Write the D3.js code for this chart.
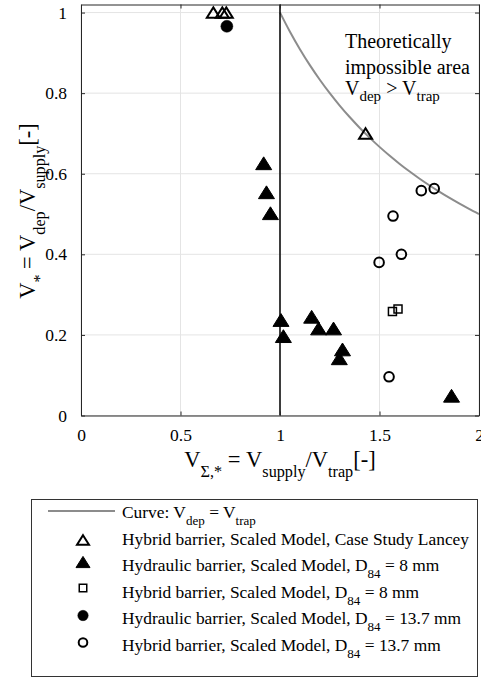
<!DOCTYPE html>
<html><head><meta charset="utf-8">
<script src="https://cdn.jsdelivr.net/npm/d3@7/dist/d3.min.js"></script>
<style>body{margin:0;background:#fff}svg{display:block}text{font-family:'Liberation Serif','Times New Roman',serif}</style>
</head><body>
<svg id="c" width="481" height="678"></svg>
<script>
// ---- data ----
const xTicks = [0, 0.5, 1, 1.5, 2];
const yTicks = [0, 0.2, 0.4, 0.6, 0.8, 1];
const xTickLabels = ["0", "0.5", "1", "1.5", "2"];
const yTickLabels = ["0", "0.2", "0.4", "0.6", "0.8", "1"];
const lanceyX = [0.665, 0.71, 0.73, 1.43];
const lanceyY = [1.0, 1.0, 1.0, 0.70];
const hyd8X = [0.918, 0.932, 0.952, 1.005, 1.017, 1.159, 1.194, 1.269, 1.314, 1.298, 1.862];
const hyd8Y = [0.626, 0.554, 0.502, 0.237, 0.197, 0.245, 0.216, 0.216, 0.164, 0.142, 0.049];
const hyb8X = [1.565, 1.593];
const hyb8Y = [0.258, 0.264];
const hyd137X = [0.733];
const hyd137Y = [0.966];
const hyb137X = [1.710, 1.775, 1.568, 1.498, 1.610, 1.548];
const hyb137Y = [0.558, 0.563, 0.495, 0.380, 0.400, 0.096];
const curveX = [1, 1.05, 1.1, 1.15, 1.2, 1.25, 1.3, 1.35, 1.4, 1.45, 1.5, 1.55, 1.6, 1.65, 1.7, 1.75, 1.8, 1.85, 1.9, 1.95, 2];
const legendLabels = [
  [{t:"Curve: V"},{t:"dep",s:1},{t:" = V"},{t:"trap",s:1}],
  [{t:"Hybrid barrier, Scaled Model, Case Study Lancey"}],
  [{t:"Hydraulic barrier, Scaled Model, D"},{t:"84",s:1},{t:" = 8 mm"}],
  [{t:"Hybrid barrier, Scaled Model, D"},{t:"84",s:1},{t:" = 8 mm"}],
  [{t:"Hydraulic barrier, Scaled Model, D"},{t:"84",s:1},{t:" = 13.7 mm"}],
  [{t:"Hybrid barrier, Scaled Model, D"},{t:"84",s:1},{t:" = 13.7 mm"}]
];

const FONT = "'Liberation Serif','Times New Roman',serif";
const svg = d3.select("#c");
const x = d3.scaleLinear().domain([0, 2]).range([81, 479]);
const y = d3.scaleLinear().domain([0, 1.02]).range([415.5, 4.5]);

// rich text helper (subscripts)
function rich(g, parts, fs, subScale, subDrop) {
  let down = false;
  parts.forEach(p => {
    const ts = g.append("tspan").text(p.t);
    if (p.s && !down) { ts.attr("dy", subDrop).style("font-size", (fs * subScale) + "px"); down = true; }
    else if (p.s) { ts.style("font-size", (fs * subScale) + "px"); }
    else if (!p.s && down) { ts.attr("dy", -subDrop); down = false; }
  });
}

// grid
const grid = svg.append("g").attr("stroke", "#e4e4e4").attr("stroke-width", 1);
grid.selectAll(".gx").data(xTicks).join("line")
  .attr("x1", d => x(d)).attr("x2", d => x(d)).attr("y1", y(0)).attr("y2", y(1.02));
grid.selectAll(".gy").data(yTicks).join("line")
  .attr("y1", d => y(d)).attr("y2", d => y(d)).attr("x1", x(0)).attr("x2", x(2));

// curve V_dep = V_trap -> y = 1/x
svg.append("path").datum(curveX)
  .attr("fill", "none").attr("stroke", "#8c8c8c").attr("stroke-width", 2)
  .attr("d", d3.line().x(d => x(d)).y(d => y(1 / d)).curve(d3.curveMonotoneX));

// vertical line at 1
svg.append("line").attr("x1", x(1)).attr("x2", x(1)).attr("y1", y(0)).attr("y2", y(1.02))
  .attr("stroke", "#000").attr("stroke-width", 1.5);

// axes (box with inward ticks)
const axCol = "#262626";
function styleAxis(g) {
  g.attr("font-family", null);
  g.select(".domain").attr("stroke", axCol);
  g.selectAll("line").attr("stroke", axCol);
  g.selectAll("text").attr("fill", "#000").style("font-family", FONT).style("font-size", "17.5px");
}
svg.append("g").attr("transform", `translate(0,${y(0)})`)
  .call(d3.axisBottom(x).tickValues(xTicks).tickFormat((d, i) => xTickLabels[i]).tickSizeInner(-4).tickSizeOuter(0).tickPadding(13))
  .call(styleAxis);
svg.append("g").attr("transform", `translate(0,${y(1.02)})`)
  .call(d3.axisTop(x).tickValues(xTicks).tickFormat("").tickSizeInner(-4).tickSizeOuter(0))
  .call(styleAxis);
svg.append("g").attr("transform", `translate(${x(0)},0)`)
  .call(d3.axisLeft(y).tickValues(yTicks).tickFormat((d, i) => yTickLabels[i]).tickSizeInner(-4).tickSizeOuter(0).tickPadding(14))
  .call(styleAxis);
svg.append("g").attr("transform", `translate(${x(2)},0)`)
  .call(d3.axisRight(y).tickValues(yTicks).tickFormat("").tickSizeInner(-4).tickSizeOuter(0))
  .call(styleAxis);

// custom symbols
const triBox = { draw(ctx, size) { const w = Math.sqrt(size); const h = w * 0.8; ctx.moveTo(0, -h / 2); ctx.lineTo(w / 2, h / 2); ctx.lineTo(-w / 2, h / 2); ctx.closePath(); } };
const sym = (type, size) => d3.symbol().type(type).size(size)();

function markers(xs, ys, type, size, filled, sw) {
  svg.append("g").selectAll("path").data(xs.map((v, i) => [v, ys[i]])).join("path")
    .attr("transform", d => `translate(${x(d[0])},${y(d[1])})`)
    .attr("d", sym(type, size))
    .attr("fill", filled ? "#000" : "#fff")
    .attr("fill-opacity", filled ? 1 : 0)
    .attr("stroke", "#000").attr("stroke-width", sw).attr("stroke-linejoin", "miter");
}
markers(hyd8X, hyd8Y, triBox, 16 * 16, true, 1);
markers(hyb137X, hyb137Y, d3.symbolCircle, Math.PI * 4.8 * 4.8, false, 2);
markers(hyb8X, hyb8Y, d3.symbolSquare, 8 * 8, false, 1.5);
markers(lanceyX, lanceyY, triBox, 13 * 13, false, 2);
markers(hyd137X, hyd137Y, d3.symbolCircle, Math.PI * 6 * 6, true, 0.5);

// annotation
const ann = svg.append("g").attr("fill", "#000");
ann.append("text").attr("x", 345).attr("y", 48).style("font-size", "20px").text("Theoretically");
ann.append("text").attr("x", 345).attr("y", 74).style("font-size", "20px").text("impossible area");
rich(ann.append("text").attr("x", 345).attr("y", 95).style("font-size", "20px"),
  [{t:"V"},{t:"dep",s:1},{t:" > V"},{t:"trap",s:1}], 20, 0.75, 6);

// axis labels
const xl = svg.append("text").style("font-size", "22.5px").attr("text-anchor", "middle")
  .attr("x", 280).attr("y", 467);
rich(xl, [{t:"V"},{t:"Σ,*",s:1},{t:" = V"},{t:"supply",s:1},{t:"/V"},{t:"trap",s:1},{t:"[-]"}], 22.5, 0.72, 10);
const yl = svg.append("text").style("font-size", "22.5px").attr("text-anchor", "middle")
  .attr("transform", "translate(35,211) rotate(-90)");
rich(yl, [{t:"V"},{t:"*",s:1},{t:" = V"},{t:"dep",s:1},{t:"/V"},{t:"supply",s:1},{t:"[-]"}], 22.5, 0.72, 10);

// legend
const lg = svg.append("g");
lg.append("rect").attr("x", 31.5).attr("y", 499.5).attr("width", 446).attr("height", 177)
  .attr("fill", "#fff").attr("stroke", "#333").attr("stroke-width", 1);
const rowBase = [518, 545, 571, 598, 624, 651];
lg.append("line").attr("x1", 48).attr("x2", 115).attr("y1", 511).attr("y2", 511)
  .attr("stroke", "#8c8c8c").attr("stroke-width", 2);
const legSyms = [
  null,
  {type: triBox, size: 12 * 12, filled: false, sw: 2},
  {type: triBox, size: 14 * 14, filled: true, sw: 1},
  {type: d3.symbolSquare, size: 7.5 * 7.5, filled: false, sw: 1.5},
  {type: d3.symbolCircle, size: Math.PI * 5.2 * 5.2, filled: true, sw: 0.5},
  {type: d3.symbolCircle, size: Math.PI * 4.3 * 4.3, filled: false, sw: 2}
];
const legY = [0, 540, 562, 588, 615.5, 642.5];
legSyms.forEach((s, i) => {
  if (!s) return;
  lg.append("path").attr("transform", `translate(83,${legY[i]})`)
    .attr("d", sym(s.type, s.size)).attr("fill", s.filled ? "#000" : "none")
    .attr("stroke", "#000").attr("stroke-width", s.sw);
});
legendLabels.forEach((parts, i) => {
  rich(lg.append("text").attr("x", 122).attr("y", rowBase[i])
    .style("font-size", "17.4px").attr("fill", "#000"), parts, 17.4, 0.75, 6.5);
});
</script>
</body></html>
